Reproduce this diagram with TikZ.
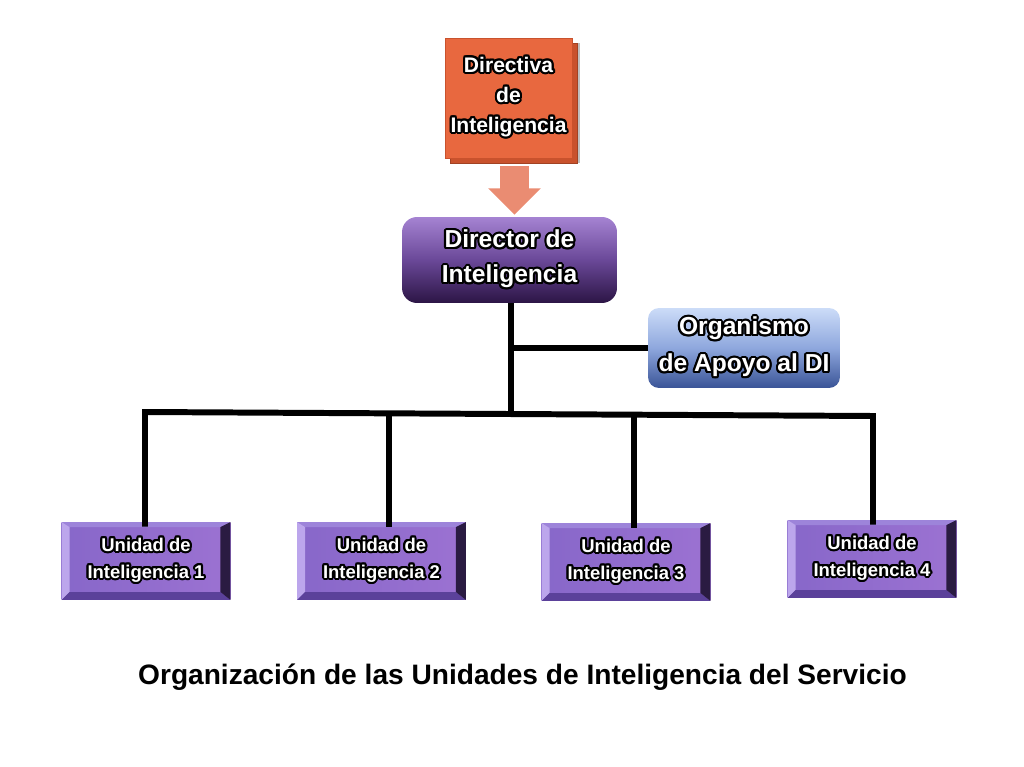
\documentclass[tikz,border=0pt]{standalone}
\usepackage{fontspec}
\setmainfont{Liberation Sans}
\usepackage{contour}
\contourlength{1.2pt}
\usetikzlibrary{calc,shadows,arrows.meta}

\definecolor{naranja}{HTML}{E8683F}
\definecolor{naranjaosc}{HTML}{C9522D}
\definecolor{flecha}{HTML}{EA8C72}
\definecolor{dirtop}{HTML}{A583D2}
\definecolor{dirmid}{HTML}{6A4898}
\definecolor{dirbot}{HTML}{2C1545}
\definecolor{orgtop}{HTML}{CCDCF8}
\definecolor{orgmid}{HTML}{8EA7DD}
\definecolor{orgbot}{HTML}{3A5497}
\definecolor{unimain}{HTML}{8767C9}
\definecolor{unirgt}{HTML}{9C72D2}
\definecolor{unilight}{HTML}{BCA6EC}
\definecolor{unitop}{HTML}{9D84DA}
\definecolor{unidark}{HTML}{2A1B42}
\definecolor{unibot}{HTML}{5B419A}

\newcommand{\borde}[1]{\contour{black}{#1}}

\tikzset{
	rotulo/.style={font=\bfseries, text=white, align=center, inner sep=0pt},
	linea/.style={line width=3.4pt, line join=miter},
	unidad/.style={rotulo, rectangle, minimum width=3.38cm, minimum height=1.56cm,
		font=\bfseries\fontsize{10.5}{15.3}\selectfont,
		left color=unimain, right color=unirgt,
		path picture={
			\fill[unitop] (path picture bounding box.north west) -- (path picture bounding box.north east)
				-- ([shift={(-0.2cm,-0.1cm)}]path picture bounding box.north east)
				-- ([shift={(0.16cm,-0.1cm)}]path picture bounding box.north west) -- cycle;
			\fill[unilight] (path picture bounding box.north west) -- ([shift={(0.16cm,-0.1cm)}]path picture bounding box.north west)
				-- ([shift={(0.16cm,0.16cm)}]path picture bounding box.south west) -- (path picture bounding box.south west) -- cycle;
			\fill[unibot] (path picture bounding box.south west) -- ([shift={(0.16cm,0.16cm)}]path picture bounding box.south west)
				-- ([shift={(-0.2cm,0.16cm)}]path picture bounding box.south east) -- (path picture bounding box.south east) -- cycle;
			\fill[unidark] (path picture bounding box.north east) -- ([shift={(-0.2cm,-0.1cm)}]path picture bounding box.north east)
				-- ([shift={(-0.2cm,0.16cm)}]path picture bounding box.south east) -- (path picture bounding box.south east) -- cycle;
		}},
}

\begin{document}
\begin{tikzpicture}[x=0.02cm,y=-0.02cm]
	\useasboundingbox (0,0) rectangle (1024,767);
	%\draw[help lines,step=50] (0,0) grid (1024,767);

	% cajas
	\node[rotulo, minimum width=2.54cm, minimum height=2.4cm, fill=naranja, draw=naranjaosc, line width=0.4pt,
		font=\bfseries\fontsize{12}{17}\selectfont,
		drop shadow={shadow xshift=0.16cm, shadow yshift=-0.1cm, fill=black, opacity=0.25},
		copy shadow={shadow xshift=0.1cm, shadow yshift=-0.1cm, fill=naranjaosc, draw=naranjaosc!80!black}]
		(directiva) at (508.5,98) {\borde{Directiva}\\\borde{de}\\\borde{Inteligencia}};
	\node[rotulo, minimum width=4.3cm, minimum height=1.72cm, rounded corners=0.3cm,
		top color=dirtop, bottom color=dirbot, middle color=dirmid,
		font=\bfseries\fontsize{14}{20}\selectfont]
		(director) at (509.5,260) {\borde{Director de}\\\borde{Inteligencia}};
	\node[rotulo, minimum width=3.84cm, minimum height=1.6cm, rounded corners=0.22cm,
		top color=orgtop, bottom color=orgbot, middle color=orgmid,
		font=\bfseries\fontsize{14}{21}\selectfont]
		(organismo) at (744,348) {\borde{Organismo}\\\borde{de Apoyo al DI}};

	\node[unidad] (u1) at (146,561) {\borde{Unidad de}\\\borde{Inteligencia 1}};
	\node[unidad] (u2) at (381.5,561) {\borde{Unidad de}\\\borde{Inteligencia 2}};
	\node[unidad] (u3) at (626,562) {\borde{Unidad de}\\\borde{Inteligencia 3}};
	\node[unidad] (u4) at (872,559) {\borde{Unidad de}\\\borde{Inteligencia 4}};

	% flecha
	\coordinate (fa) at ($(directiva.south)+(6,8)$);
	\draw[flecha, line width=17pt, -{Triangle[width=29pt,length=15pt]}]
		(fa) -- ($(fa |- director.north)+(0,-2)$);

	% lineas
	\coordinate (b1) at (145,412);
	\coordinate (b2) at (389,413.5);
	\coordinate (bc) at (511,414);
	\coordinate (b3) at (634,415);
	\coordinate (b4) at (873,416);
	\draw[linea] (director.south -| bc) -- (bc);
	\draw[linea] (bc |- organismo.west) -- (organismo.west);
	\draw[linea] ($(b1 |- u1.north)+(0,5)$) -- (b1) -- (b4) -- ($(b4 |- u4.north)+(0,5)$);
	\draw[linea] (b2) -- ($(b2 |- u2.north)+(0,5)$);
	\draw[linea] (b3) -- ($(b3 |- u3.north)+(0,5)$);

	\node[font=\bfseries\fontsize{16}{19}\selectfont] (titulo) at (522.5,677)
		{Organización de las Unidades de Inteligencia del Servicio};
\end{tikzpicture}
\end{document}
